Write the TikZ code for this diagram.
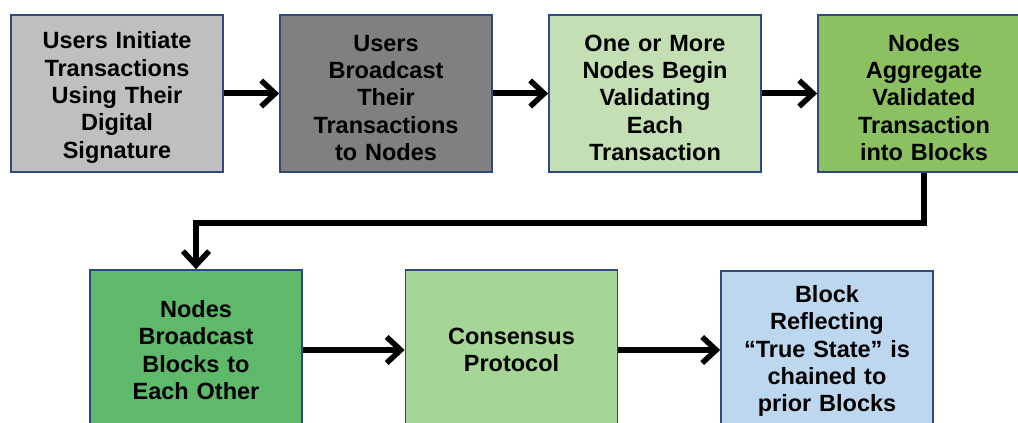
\documentclass[tikz,border=0pt]{standalone}
\usepackage{fontspec}
\setmainfont{Liberation Sans}
\usepackage{xcolor}
\usetikzlibrary{arrows.meta, calc}
\definecolor{edgeblue}{HTML}{2F4A7A}
\definecolor{greyA}{HTML}{BFBFBF}
\definecolor{greyB}{HTML}{808080}
\definecolor{greenA}{HTML}{C4DFB4}
\definecolor{greenB}{HTML}{8CC162}
\definecolor{greenC}{HTML}{5EB96A}
\definecolor{greenD}{HTML}{A6D696}
\definecolor{blueA}{HTML}{BDD7EE}

\begin{document}
\begin{tikzpicture}[x=1pt,y=1pt,
  stage/.style={draw=edgeblue, line width=1.6pt, minimum width=212pt, text width=200pt,
    align=center, font=\fontsize{23.5}{27.3}\selectfont\bfseries, inner sep=0pt},
  toprow/.style={stage, minimum height=157pt, execute at begin node={\rule{0pt}{25pt}}},
  lowrow/.style={stage, minimum height=160pt},
  flow/.style={line width=6pt, line join=miter,
    -{Straight Barb[length=14pt, width=26pt, line width=5.5pt]}}]
\useasboundingbox (0,0) rectangle (1018,423);
\node[toprow, fill=greyA] (b1) at (117,329.5) {Users Initiate\\Transactions\\Using Their\\Digital\\Signature};
\node[toprow, fill=greyB] (b2) at (386,329.5) {Users\\Broadcast\\Their\\Transactions\\to Nodes};
\node[toprow, fill=greenA] (b3) at (655,329.5) {One or More\\Nodes Begin\\Validating\\Each\\Transaction};
\node[toprow, fill=greenB] (b4) at (924,329.5) {Nodes\\Aggregate\\Validated\\Transaction\\into Blocks};
\node[lowrow, fill=greenC] (b5) at (196,73) {Nodes\\Broadcast\\Blocks to\\Each Other};
\node[lowrow, fill=greenD] (b6) at (511.5,73) {Consensus\\Protocol};
\node[lowrow, fill=blueA] (b7) at (827,72) {Block\\Reflecting\\``True State'' is\\chained to\\prior Blocks};
\draw[flow] (b1.east) -- (b2.west);
\draw[flow] (b2.east) -- (b3.west);
\draw[flow] (b3.east) -- (b4.west);
\draw[flow] (b4.south) -- ++(0,-50) -| (b5.north);
\draw[flow] (b5.east) -- (b6.west);
\draw[flow] (b6.east) -- (b7.west |- b6.east);
\end{tikzpicture}
\end{document}
